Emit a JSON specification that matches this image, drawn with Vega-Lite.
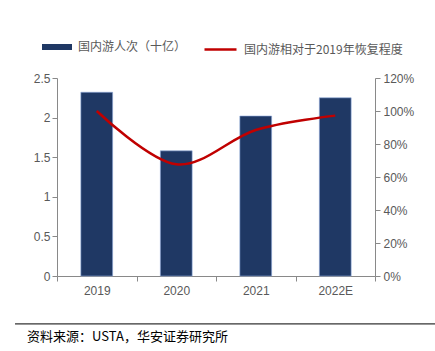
{
  "$schema": "https://vega.github.io/schema/vega-lite/v6.json",
  "width": 318,
  "height": 198,
  "autosize": {"type": "none"},
  "padding": {"left": 57, "top": 78, "right": 60, "bottom": 75},
  "background": "white",
  "config": {
    "view": {"stroke": null},
    "axis": {
      "labelFont": "Liberation Sans",
      "labelFontSize": 12,
      "labelColor": "#595959",
      "domainColor": "#898989",
      "tickColor": "#898989",
      "tickSize": 5,
      "grid": false,
      "title": null
    },
    "legend": {
      "labelFont": "Noto Sans CJK SC",
      "labelFontSize": 12,
      "labelColor": "#595959",
      "labelLimit": 400,
      "padding": 0
    }
  },
  "datasets": {
    "main": [
      {"year": "2019", "trips": 2.32, "recovery": 1.0},
      {"year": "2020", "trips": 1.58, "recovery": 0.677},
      {"year": "2021", "trips": 2.02, "recovery": 0.885},
      {"year": "2022E", "trips": 2.25, "recovery": 0.972}
    ],
    "note": [
      {"source": "资料来源：USTA，华安证券研究所"}
    ]
  },
  "layer": [
    {
      "data": {"name": "main"},
      "mark": {"type": "bar", "width": {"band": 0.4}, "stroke": "#8ea9db", "strokeWidth": 0.6},
      "encoding": {
        "x": {
          "field": "year", "type": "ordinal", "sort": null,
          "scale": {"paddingInner": 0, "paddingOuter": 0},
          "axis": {"labelAngle": 0, "tickBand": "extent", "labelPadding": 4}
        },
        "y": {
          "field": "trips", "type": "quantitative",
          "scale": {"domain": [0, 2.5], "nice": false},
          "axis": {"orient": "left", "values": [0, 0.5, 1, 1.5, 2, 2.5], "format": "~g", "labelPadding": 2}
        },
        "color": {
          "datum": "国内游人次（十亿）", "type": "nominal",
          "scale": {"range": ["#1f3864"]},
          "legend": {
            "title": null, "orient": "none", "legendX": -15, "legendY": -46,
            "symbolType": "M-1,-0.2H1V0.2H-1Z", "symbolSize": 900,
            "symbolStrokeWidth": 0, "labelOffset": 6
          }
        }
      }
    },
    {
      "data": {"name": "main"},
      "mark": {"type": "line", "interpolate": "cardinal", "strokeWidth": 2.5},
      "encoding": {
        "x": {
          "field": "year", "type": "ordinal", "sort": null,
          "scale": {"paddingInner": 0, "paddingOuter": 0},
          "axis": null
        },
        "y": {
          "field": "recovery", "type": "quantitative",
          "scale": {"domain": [0, 1.2], "nice": false},
          "axis": {"orient": "right", "format": ".0%", "values": [0, 0.2, 0.4, 0.6, 0.8, 1.0, 1.2], "labelPadding": 3}
        },
        "stroke": {
          "datum": "国内游相对于2019年恢复程度", "type": "nominal",
          "scale": {"range": ["#c00000"]},
          "legend": {
            "title": null, "orient": "none", "legendX": 146, "legendY": -46,
            "symbolType": "stroke", "symbolSize": 1024, "symbolStrokeWidth": 2.5, "labelOffset": 6
          }
        }
      }
    },
    {
      "data": {"name": "note"},
      "mark": {"type": "rule", "color": "#000000", "strokeWidth": 1},
      "encoding": {
        "x": {"datum": -0.132, "type": "quantitative", "scale": {"domain": [0, 1]}, "axis": null},
        "x2": {"datum": 1.19},
        "y": {"datum": -0.242, "type": "quantitative", "scale": {"domain": [0, 1]}, "axis": null}
      }
    },
    {
      "data": {"name": "note"},
      "mark": {"type": "text", "align": "left", "baseline": "middle", "font": "Noto Sans CJK SC", "fontSize": 13, "color": "#000000"},
      "encoding": {
        "x": {"datum": -0.094, "type": "quantitative", "scale": {"domain": [0, 1]}, "axis": null},
        "y": {"datum": -0.308, "type": "quantitative", "scale": {"domain": [0, 1]}, "axis": null},
        "text": {"field": "source"}
      }
    }
  ],
  "resolve": {"scale": {"x": "independent", "y": "independent", "color": "independent", "stroke": "independent"}}
}
